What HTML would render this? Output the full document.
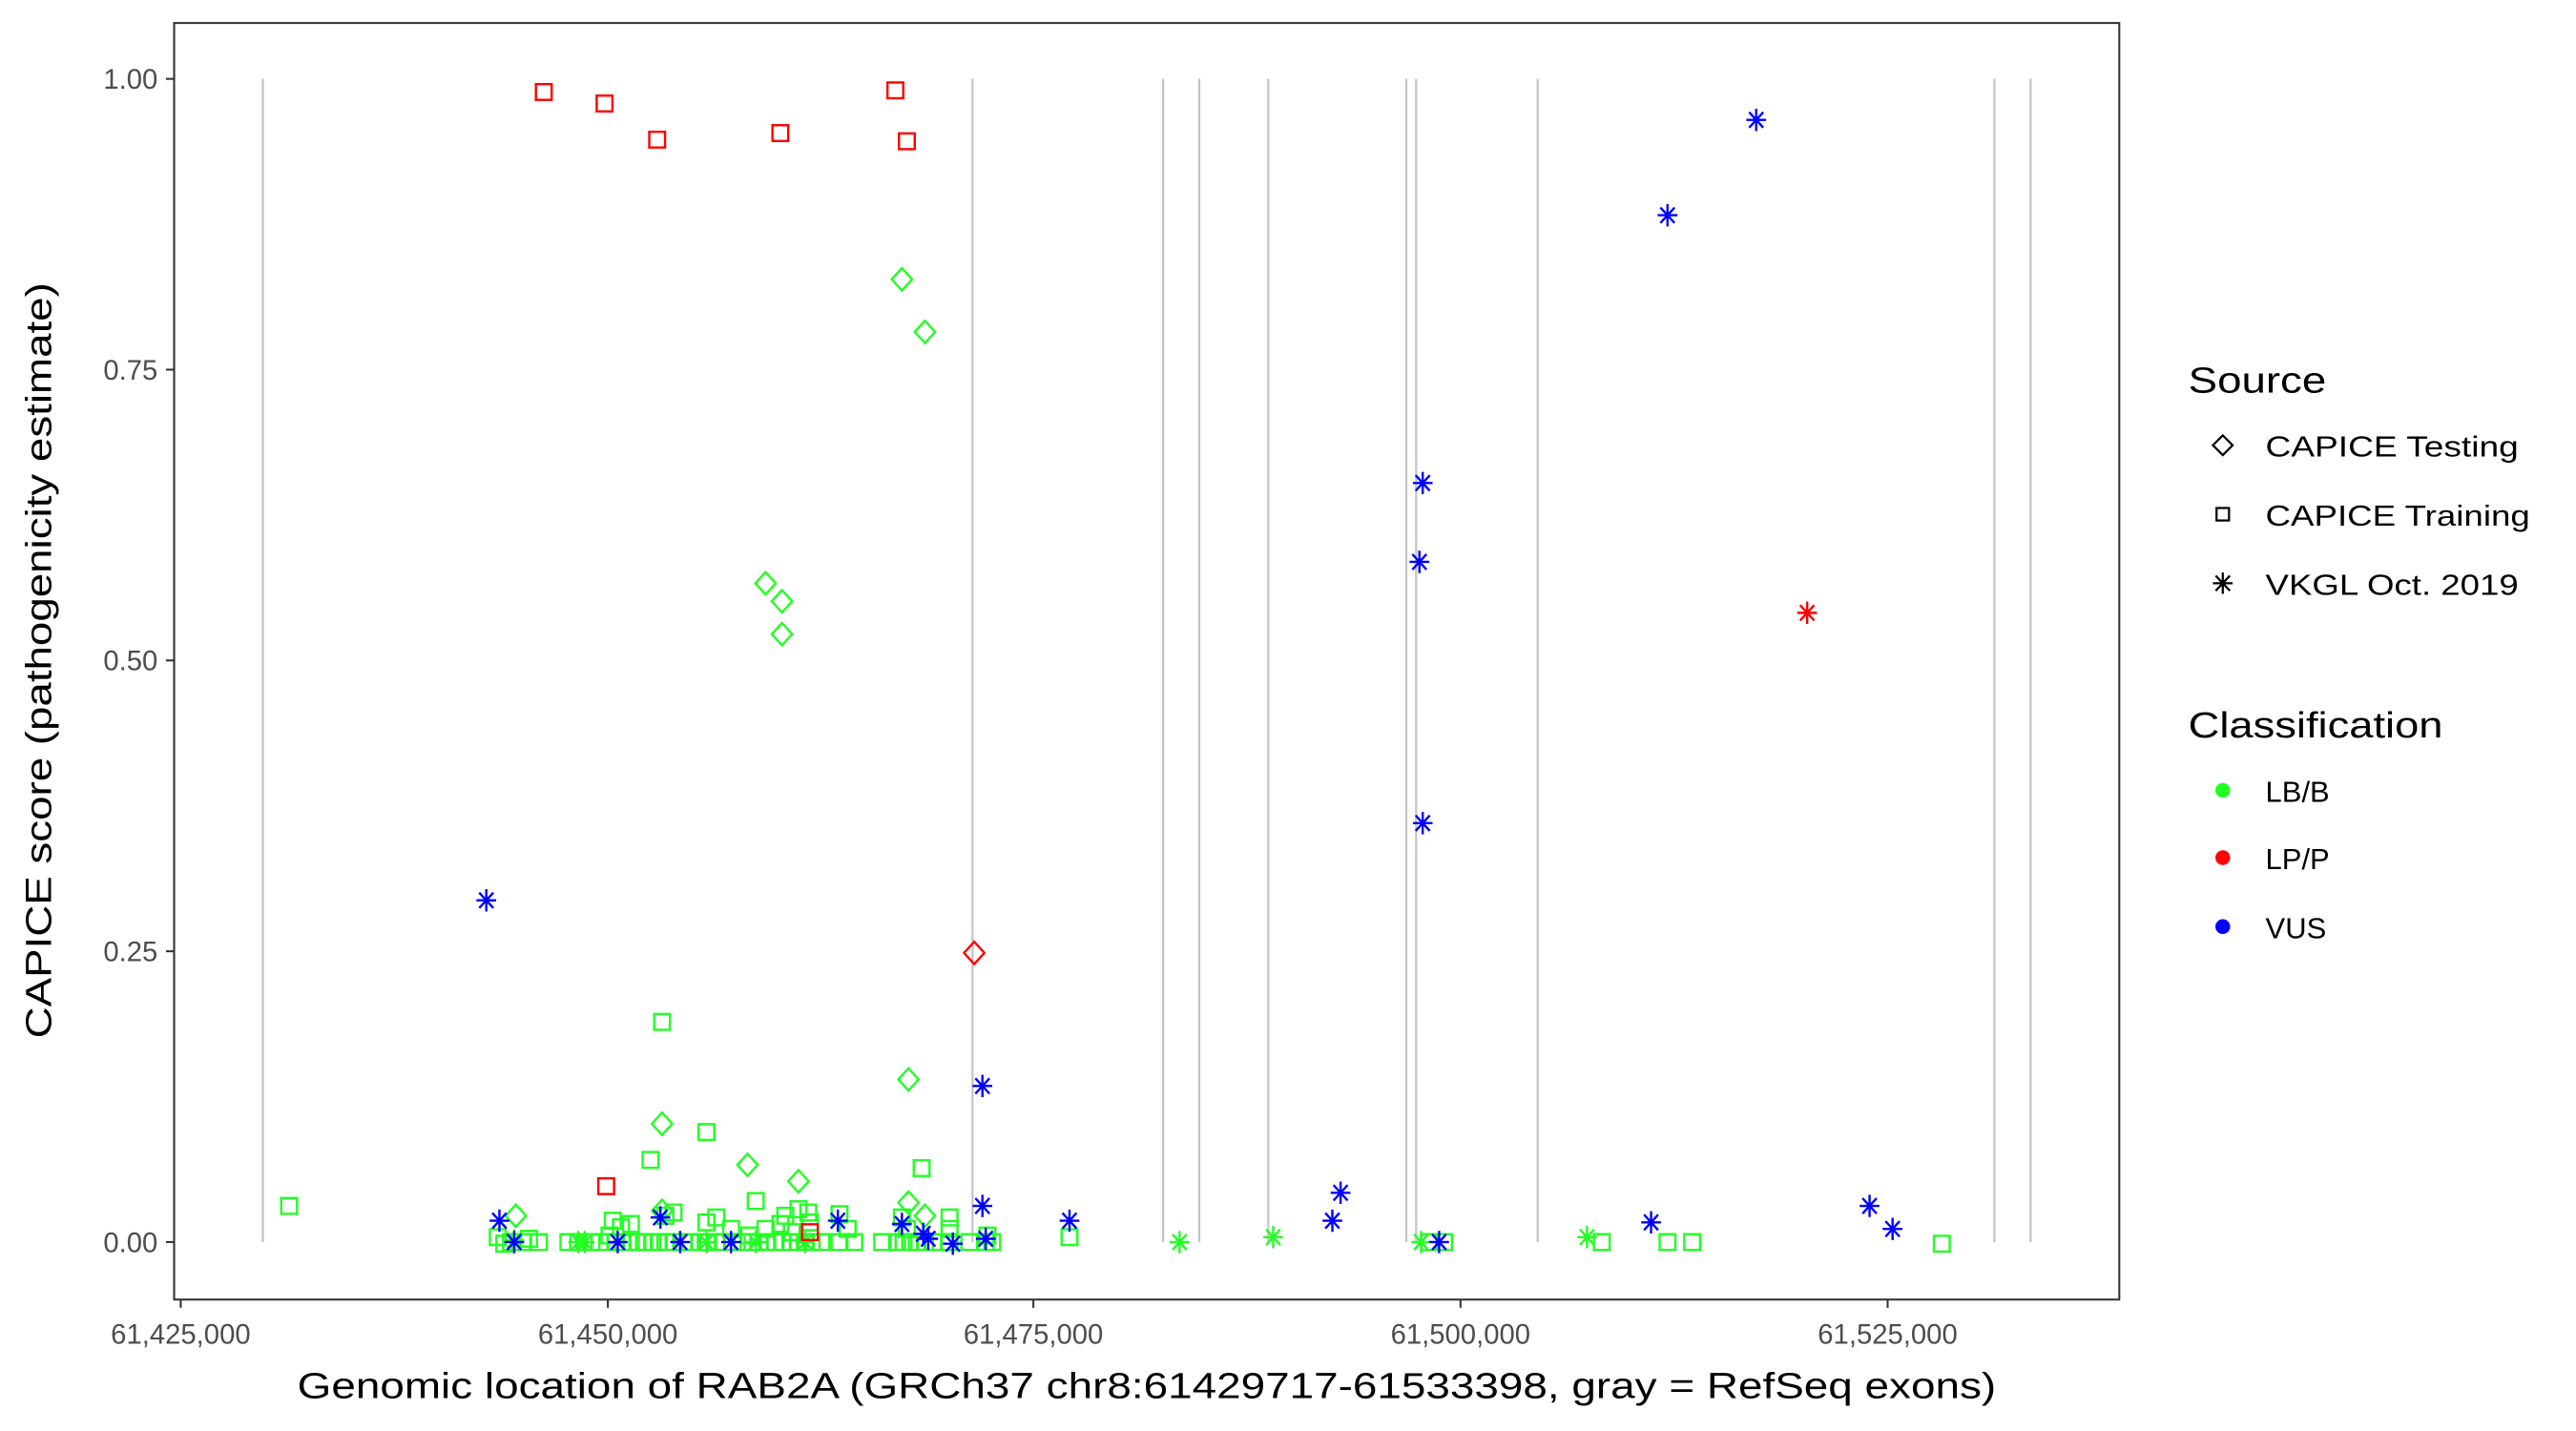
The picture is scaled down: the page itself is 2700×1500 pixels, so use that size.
<!DOCTYPE html>
<html><head><meta charset="utf-8"><style>
html,body{margin:0;padding:0;background:#fff;}
svg{display:block;}
text{font-family:"Liberation Sans",Arial,sans-serif;}
</style></head><body>
<svg width="2700" height="1500" viewBox="0 0 1568 871" preserveAspectRatio="none" xmlns="http://www.w3.org/2000/svg">
<defs>
<rect id="sq" x="-4.8" y="-4.8" width="9.6" height="9.6" fill="none" stroke-width="1.4"/>
<path id="di" d="M0,-6.8L6.2,0L0,6.8L-6.2,0Z" fill="none" stroke-width="1.4"/>
<path id="st" d="M-6,0H6M0,-6.8V6.8M-4.3,-4.7L4.3,4.7M-4.3,4.7L4.3,-4.7" fill="none" stroke-width="1.4"/>
</defs>
<rect width="1568" height="871" fill="#fff"/>
<!-- exons -->
<g stroke="#c4c4c4" stroke-width="1.3">
<line x1="160" y1="48" x2="160" y2="756"/>
<line x1="592" y1="48" x2="592" y2="756"/>
<line x1="708" y1="48" x2="708" y2="756"/>
<line x1="730" y1="48" x2="730" y2="756"/>
<line x1="772" y1="48" x2="772" y2="756"/>
<line x1="856" y1="48" x2="856" y2="756"/>
<line x1="862" y1="48" x2="862" y2="756"/>
<line x1="936" y1="48" x2="936" y2="756"/>
<line x1="1214" y1="48" x2="1214" y2="756"/>
<line x1="1236" y1="48" x2="1236" y2="756"/>
</g>
<!-- green squares -->
<g stroke="#22ff22">
<use href="#sq" x="176" y="734"/><use href="#sq" x="403" y="622"/><use href="#sq" x="430" y="689"/><use href="#sq" x="396" y="706"/>
<use href="#sq" x="561" y="711"/><use href="#sq" x="460" y="731"/><use href="#sq" x="651" y="753"/><use href="#sq" x="975" y="756"/>
<use href="#sq" x="1015" y="756"/><use href="#sq" x="1030" y="756"/><use href="#sq" x="1182" y="757"/><use href="#sq" x="870" y="756"/><use href="#sq" x="879" y="756"/>
<use href="#sq" x="303" y="753"/><use href="#sq" x="307" y="757"/><use href="#sq" x="311" y="756"/><use href="#sq" x="318" y="756"/><use href="#sq" x="322" y="754"/><use href="#sq" x="328" y="756"/>
<use href="#sq" x="346" y="756"/><use href="#sq" x="352" y="756"/><use href="#sq" x="360" y="756"/><use href="#sq" x="365" y="756"/><use href="#sq" x="371" y="752"/><use href="#sq" x="375" y="756"/>
<use href="#sq" x="379" y="756"/><use href="#sq" x="384" y="756"/><use href="#sq" x="388" y="756"/><use href="#sq" x="392" y="756"/><use href="#sq" x="397" y="756"/><use href="#sq" x="401" y="756"/>
<use href="#sq" x="405" y="756"/><use href="#sq" x="410" y="756"/><use href="#sq" x="416" y="756"/><use href="#sq" x="420" y="756"/><use href="#sq" x="426" y="756"/><use href="#sq" x="431" y="756"/>
<use href="#sq" x="436" y="756"/><use href="#sq" x="440" y="756"/><use href="#sq" x="446" y="756"/><use href="#sq" x="452" y="756"/><use href="#sq" x="458" y="756"/><use href="#sq" x="462" y="756"/>
<use href="#sq" x="467" y="756"/><use href="#sq" x="472" y="756"/><use href="#sq" x="476" y="756"/><use href="#sq" x="481" y="756"/><use href="#sq" x="486" y="756"/><use href="#sq" x="490" y="756"/>
<use href="#sq" x="494" y="756"/><use href="#sq" x="500" y="756"/><use href="#sq" x="511" y="756"/><use href="#sq" x="520" y="756"/><use href="#sq" x="537" y="756"/><use href="#sq" x="546" y="756"/>
<use href="#sq" x="550" y="756"/><use href="#sq" x="554" y="756"/><use href="#sq" x="558" y="756"/><use href="#sq" x="563" y="756"/><use href="#sq" x="568" y="756"/><use href="#sq" x="578" y="756"/>
<use href="#sq" x="590" y="756"/><use href="#sq" x="600" y="756"/><use href="#sq" x="604" y="756"/>
<use href="#sq" x="373" y="743"/><use href="#sq" x="378" y="747"/><use href="#sq" x="384" y="745"/><use href="#sq" x="405" y="740"/><use href="#sq" x="410" y="738"/><use href="#sq" x="430" y="744"/>
<use href="#sq" x="436" y="741"/><use href="#sq" x="445" y="748"/><use href="#sq" x="466" y="748"/><use href="#sq" x="475" y="745"/><use href="#sq" x="478" y="740"/><use href="#sq" x="486" y="736"/>
<use href="#sq" x="492" y="738"/><use href="#sq" x="493" y="744"/><use href="#sq" x="511" y="739"/><use href="#sq" x="516" y="748"/><use href="#sq" x="549" y="741"/><use href="#sq" x="552" y="748"/>
<use href="#sq" x="578" y="741"/><use href="#sq" x="578" y="748"/><use href="#sq" x="601" y="752"/><use href="#sq" x="456" y="752"/><use href="#sq" x="482" y="750"/>
</g>
<!-- green diamonds -->
<g stroke="#22ff22">
<use href="#di" x="549" y="170"/><use href="#di" x="563" y="202"/><use href="#di" x="466" y="355"/><use href="#di" x="476" y="366"/><use href="#di" x="476" y="386"/>
<use href="#di" x="553" y="657"/><use href="#di" x="403" y="684"/><use href="#di" x="455" y="709"/><use href="#di" x="486" y="719"/><use href="#di" x="553" y="732"/>
<use href="#di" x="563" y="740"/><use href="#di" x="314" y="740"/><use href="#di" x="403" y="737"/>
</g>
<!-- green stars -->
<g stroke="#22ff22">
<use href="#st" x="356" y="756"/><use href="#st" x="718" y="756"/><use href="#st" x="775" y="753"/><use href="#st" x="865" y="756"/><use href="#st" x="966" y="753"/>
<use href="#st" x="313" y="755"/><use href="#st" x="352" y="756"/><use href="#st" x="430" y="756"/><use href="#st" x="460" y="756"/><use href="#st" x="490" y="756"/>
</g>
<!-- red -->
<g stroke="#ff0000">
<use href="#sq" x="331" y="56"/><use href="#sq" x="368" y="63"/><use href="#sq" x="400" y="85"/><use href="#sq" x="475" y="81"/><use href="#sq" x="545" y="55"/><use href="#sq" x="552" y="86"/>
<use href="#sq" x="369" y="722"/><use href="#sq" x="493" y="750"/>
<use href="#di" x="593" y="580"/>
<use href="#st" x="1100" y="373"/>
</g>
<!-- blue stars -->
<g stroke="#0000ff">
<use href="#st" x="296" y="548"/><use href="#st" x="1069" y="73"/><use href="#st" x="1015" y="131"/><use href="#st" x="866" y="294"/><use href="#st" x="864" y="342"/><use href="#st" x="866" y="501"/>
<use href="#st" x="598" y="661"/><use href="#st" x="304" y="743"/><use href="#st" x="402" y="741"/><use href="#st" x="510" y="743"/><use href="#st" x="549" y="745"/><use href="#st" x="562" y="751"/>
<use href="#st" x="598" y="734"/><use href="#st" x="651" y="743"/><use href="#st" x="816" y="726"/><use href="#st" x="811" y="743"/><use href="#st" x="1005" y="744"/><use href="#st" x="1138" y="734"/>
<use href="#st" x="1152" y="748"/><use href="#st" x="313" y="756"/><use href="#st" x="376" y="756"/><use href="#st" x="414" y="756"/><use href="#st" x="445" y="756"/><use href="#st" x="580" y="757"/>
<use href="#st" x="600" y="754"/><use href="#st" x="876" y="756"/><use href="#st" x="565" y="754"/>
</g>
<!-- panel -->
<rect x="106" y="14" width="1184" height="777" fill="none" stroke="#333" stroke-width="1.2"/>
<!-- y ticks -->
<g stroke="#333" stroke-width="1.2">
<line x1="101" y1="48" x2="106" y2="48"/><line x1="101" y1="225" x2="106" y2="225"/><line x1="101" y1="402" x2="106" y2="402"/><line x1="101" y1="579" x2="106" y2="579"/><line x1="101" y1="756" x2="106" y2="756"/>
<line x1="110" y1="791" x2="110" y2="796"/><line x1="370" y1="791" x2="370" y2="796"/><line x1="629" y1="791" x2="629" y2="796"/><line x1="889" y1="791" x2="889" y2="796"/><line x1="1149" y1="791" x2="1149" y2="796"/>
</g>
<g fill="#4d4d4d" font-size="17" text-anchor="end">
<text x="96" y="54">1.00</text><text x="96" y="231">0.75</text><text x="96" y="408">0.50</text><text x="96" y="585">0.25</text><text x="96" y="762">0.00</text>
</g>
<g fill="#4d4d4d" font-size="17" text-anchor="middle">
<text x="110" y="818">61,425,000</text><text x="370" y="818">61,450,000</text><text x="629" y="818">61,475,000</text><text x="889" y="818">61,500,000</text><text x="1149" y="818">61,525,000</text>
</g>
<text x="698" y="851" font-size="22" text-anchor="middle" fill="#000" textLength="1034" lengthAdjust="spacingAndGlyphs">Genomic location of RAB2A (GRCh37 chr8:61429717-61533398, gray = RefSeq exons)</text>
<text transform="translate(31,402) rotate(-90)" font-size="22" text-anchor="middle" fill="#000" textLength="460" lengthAdjust="spacingAndGlyphs">CAPICE score (pathogenicity estimate)</text>
<!-- legend -->
<text x="1332" y="239" font-size="22" fill="#000" textLength="84" lengthAdjust="spacingAndGlyphs">Source</text>
<g stroke="#000" fill="none" stroke-width="1.3">
<path d="M1353,265L1359,271L1353,277L1347,271Z"/>
<rect x="1349.2" y="309.2" width="7.6" height="7.6"/>
<path d="M1347,355H1359M1353,348.5V361.5M1348.7,350.4L1357.3,359.6M1348.7,359.6L1357.3,350.4"/>
</g>
<g font-size="18" fill="#000">
<text x="1379" y="278" textLength="154" lengthAdjust="spacingAndGlyphs">CAPICE Testing</text>
<text x="1379" y="320" textLength="161" lengthAdjust="spacingAndGlyphs">CAPICE Training</text>
<text x="1379" y="362" textLength="154" lengthAdjust="spacingAndGlyphs">VKGL Oct. 2019</text>
</g>
<text x="1332" y="449" font-size="22" fill="#000" textLength="155" lengthAdjust="spacingAndGlyphs">Classification</text>
<circle cx="1353" cy="481" r="4.5" fill="#22ff22"/><circle cx="1353" cy="522" r="4.5" fill="#ff0000"/><circle cx="1353" cy="564" r="4.5" fill="#0000ff"/>
<g font-size="18" fill="#000">
<text x="1379" y="488">LB/B</text><text x="1379" y="529">LP/P</text><text x="1379" y="571">VUS</text>
</g>
</svg>
</body></html>
